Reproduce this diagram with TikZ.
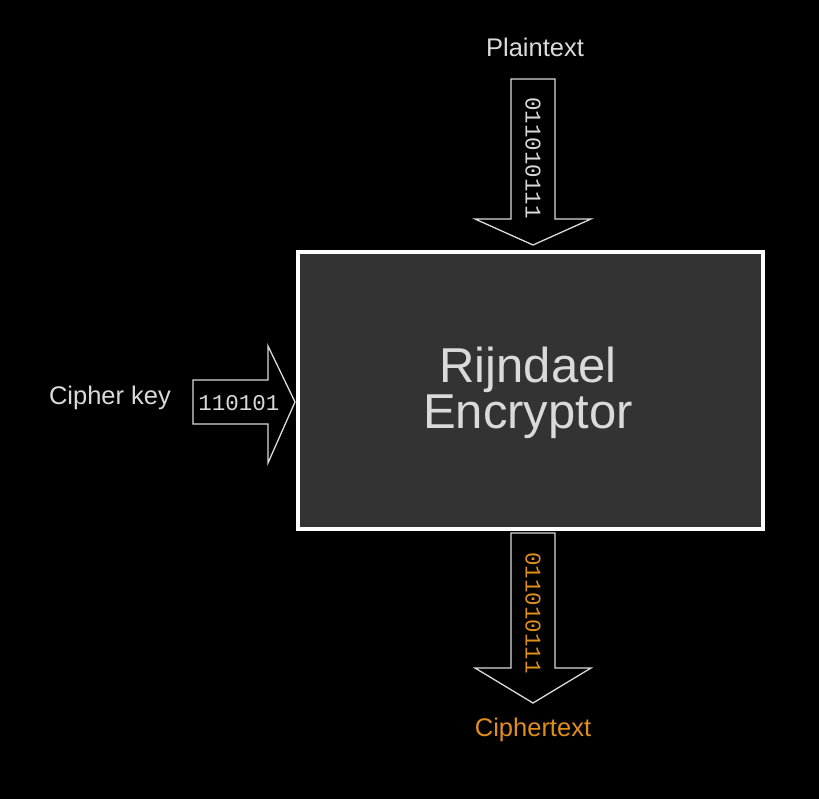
\documentclass[tikz,border=0pt]{standalone}
\usepackage{fontspec}
\setmainfont{Liberation Sans}
\newfontfamily\bitsfont{Liberation Mono}
\definecolor{labelgray}{HTML}{DADADA}
\definecolor{boxgray}{HTML}{333333}
\definecolor{cipherorange}{HTML}{E08E1E}
\tikzset{
  label text/.style={text=labelgray, font=\fontsize{25.5}{29}\selectfont},
  bits text/.style={text=labelgray, font=\bitsfont\fontsize{22.5}{26}\selectfont},
  block arrow/.style={draw=labelgray, line width=1.3pt, line join=miter},
}
\begin{document}
\begin{tikzpicture}[x=1pt, y=-1pt]
        % Фон
        \fill[black] (0, 0) rectangle (819, 799);
        \useasboundingbox (0, 0) rectangle (819, 799);

        % Блок шифрования
        \node[draw=white, line width=4pt, fill=boxgray, minimum width=465pt, minimum height=277pt,
              inner sep=0pt] (enc) at (530.5, 390.5) {};
        \node[align=center, text=labelgray, font=\fontsize{49}{46}\selectfont]
              (enctext) at (528, 393) {Rijndael\\Encryptor};

        % Стрелка сверху
        \draw[block arrow] (511, 79) -- (555, 79) -- (555, 219) -- (591, 219) -- (533, 245)
              -- (475, 219) -- (511, 219) -- cycle;
        \node[bits text, rotate=-90] (plainbits) at (533, 158) {011010111};
        \node[label text] (plain) at (535, 47) {Plaintext};

        % Стрелка слева
        \draw[block arrow] (193, 380) -- (268, 380) -- (268, 346) -- (295, 402) -- (268, 463)
              -- (268, 424) -- (193, 424) -- cycle;
        \node[bits text] (keybits) at (239, 403) {110101};
        \node[label text] (key) at (110, 398) {Cipher key};

        % Стрелка снизу
        \draw[block arrow] (511, 533) -- (555, 533) -- (555, 668) -- (591, 668) -- (533, 703)
              -- (475, 668) -- (511, 668) -- cycle;
        \node[bits text, text=cipherorange, rotate=-90] (cipherbits) at (533, 613) {011010111};
        \node[label text, text=cipherorange] (cipher) at (533, 730) {Ciphertext};
\end{tikzpicture}
\end{document}
